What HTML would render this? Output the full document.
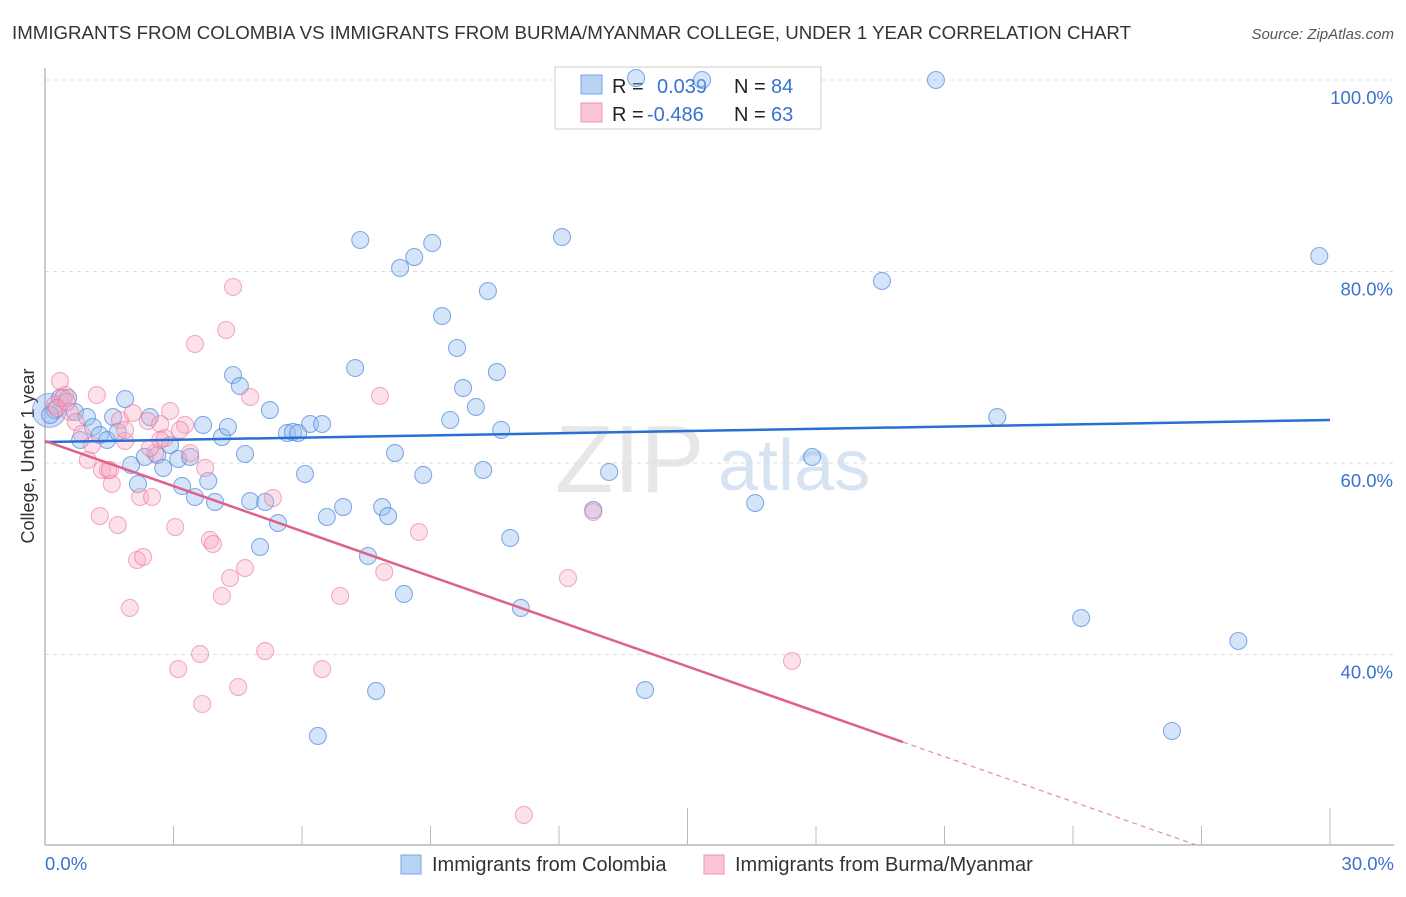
<!DOCTYPE html>
<html><head><meta charset="utf-8">
<style>
body{margin:0;background:#fff;font-family:"Liberation Sans",sans-serif;}
svg text{font-family:"Liberation Sans",sans-serif;}
</style></head>
<body>
<svg id="chart" width="1406" height="892" viewBox="0 0 1406 892" xmlns="http://www.w3.org/2000/svg">
<text x="12" y="39" font-size="18" fill="#333" textLength="1119" lengthAdjust="spacingAndGlyphs">IMMIGRANTS FROM COLOMBIA VS IMMIGRANTS FROM BURMA/MYANMAR COLLEGE, UNDER 1 YEAR CORRELATION CHART</text>
<text x="1394" y="39" font-size="15" fill="#555" text-anchor="end" font-style="italic">Source: ZipAtlas.com</text>
<text x="555" y="492" font-size="96" fill="#ddd" font-family="Liberation Serif" opacity="0.7">ZIP</text>
<text x="718" y="490" font-size="72" fill="#c6d8ef" opacity="0.7">atlas</text>
<g id="grid"></g>
<line x1="45" y1="68" x2="45" y2="845" stroke="#aaa" stroke-width="1.2"/>
<line x1="45" y1="845" x2="1394" y2="845" stroke="#aaa" stroke-width="1.2"/>
<g id="xticks"></g>
<text transform="translate(34,456) rotate(-90)" font-size="18" fill="#333" text-anchor="middle">College, Under 1 year</text>
<text x="45" y="870" font-size="18.5" fill="#3a72d0">0.0%</text>
<text x="1394" y="870" font-size="18.5" fill="#3a72d0" text-anchor="end">30.0%</text>
<g>
<rect x="555" y="67" width="266" height="62" fill="#fff" stroke="#ccc"/>
<rect x="581" y="75" width="21" height="19" fill="#b9d3f5" stroke="#7aa6e4"/>
<rect x="581" y="103" width="21" height="19" fill="#fbc5d5" stroke="#ee94b0"/>
<text x="612" y="93" font-size="20" fill="#222">R = </text><text x="657" y="93" font-size="20" fill="#3a72d0">0.039</text>
<text x="734" y="93" font-size="20" fill="#222">N = </text><text x="771" y="93" font-size="20" fill="#3a72d0">84</text>
<text x="612" y="121" font-size="20" fill="#222">R = </text><text x="647" y="121" font-size="20" fill="#3a72d0">-0.486</text>
<text x="734" y="121" font-size="20" fill="#222">N = </text><text x="771" y="121" font-size="20" fill="#3a72d0">63</text>
</g>
<g id="points"></g>
<g id="lines"></g>
<g>
<rect x="401" y="855" width="20" height="19" fill="#b9d3f5" stroke="#7aa6e4"/>
<text x="432" y="871" font-size="20" fill="#333">Immigrants from Colombia</text></g>
<g>
<rect x="704" y="855" width="20" height="19" fill="#fbc5d5" stroke="#ee94b0"/>
<text x="735" y="871" font-size="20" fill="#333">Immigrants from Burma/Myanmar</text></g>
</svg>
<script>
const yTicks=[100,80,60,40];
const yTickLabels=["100.0%","80.0%","60.0%","40.0%"];
const xTickValues=[3,6,9,12,15,18,21,24,27,30];
const blueX=[0.23,0.35,0.54,0.70,0.82,0.98,1.12,1.28,1.45,1.59,1.70,1.87,2.01,2.17,2.33,2.45,2.62,2.76,2.92,3.11,3.20,3.39,3.50,3.69,3.81,3.97,4.13,4.27,4.39,4.55,4.67,4.79,5.02,5.14,5.25,5.44,5.65,5.79,5.91,6.07,6.19,6.47,6.58,6.96,7.24,7.36,7.54,7.73,7.87,8.01,8.17,8.29,8.38,8.62,8.83,9.04,9.27,9.46,9.62,9.76,10.06,10.23,10.34,10.55,10.65,10.86,11.11,12.07,12.80,13.17,13.80,14.01,15.34,16.58,17.91,19.54,20.80,22.23,24.19,26.31,27.86,29.75,6.37,0.12];
const blueY=[65.53,66.79,66.79,65.33,62.40,64.80,63.76,62.92,62.40,64.80,63.24,66.68,59.79,57.81,60.63,64.80,60.83,59.48,61.88,60.42,57.60,60.63,56.45,63.97,58.12,55.93,62.71,63.76,69.19,68.04,60.94,56.03,51.23,55.93,65.53,53.73,63.13,63.24,63.13,58.85,64.07,64.07,54.36,55.40,69.92,83.29,50.29,36.19,55.40,54.46,61.04,80.37,46.32,81.51,58.75,82.98,75.35,64.49,72.01,67.83,65.85,59.27,77.96,69.50,63.45,52.17,44.86,83.60,55.09,59.06,100.2,36.29,100,55.82,60.63,79.01,100,64.80,43.81,32.01,41.41,81.62,31.49,65.01];
const pinkX=[0.23,0.35,0.47,0.58,0.72,0.86,1.00,1.10,1.21,1.28,1.33,1.47,1.56,1.70,1.75,1.87,1.98,2.05,2.15,2.22,2.29,2.40,2.50,2.57,2.69,2.80,2.92,3.04,3.11,3.27,3.39,3.50,3.62,3.67,3.74,3.85,3.92,4.13,4.23,4.32,4.39,4.51,4.67,4.79,5.14,5.32,6.47,6.89,7.82,7.92,8.73,11.18,12.21,12.80,17.44,0.42,0.28,0.51,1.52,2.69,3.15,2.45,1.87];
const pinkY=[66.06,68.56,67.10,65.33,64.28,63.03,60.31,61.88,67.10,54.46,59.27,59.27,57.81,53.52,64.49,62.30,44.86,65.22,49.87,56.45,50.18,64.39,56.45,61.04,64.07,62.61,65.43,53.31,38.48,63.97,61.04,72.43,40.05,34.83,59.48,51.96,51.54,46.11,73.89,47.99,78.38,36.60,49.03,66.89,40.36,56.34,38.48,46.11,67.00,48.62,52.79,23.24,47.99,54.88,39.32,66.79,65.74,66.37,59.27,62.40,63.45,61.57,63.45];
const blueTrend=[62.19,64.49];
const pinkTrend=[62.3,-1.57];
const NS="http://www.w3.org/2000/svg";
const X=v=>45+v*(1285/30);
const Y=v=>80+(100-v)*9.575;
function mk(tag,attrs,parent){const e=document.createElementNS(NS,tag);for(const k in attrs)e.setAttribute(k,attrs[k]);parent.appendChild(e);return e;}
const grid=document.getElementById('grid');
yTicks.forEach((t,i)=>{
 const l=mk('line',{x1:45,x2:1394,y1:Y(t),y2:Y(t),stroke:'#ddd','stroke-dasharray':'4 4'},grid);
 
 
 const tx=mk('text',{x:1393,y:Y(t)+24,'font-size':18.5,fill:'#3a72d0','text-anchor':'end'},grid);
 tx.textContent=yTickLabels[i];
 
 
});
const xt=document.getElementById('xticks');
xTickValues.forEach((v,i)=>{
 const l=mk('line',{x1:X(v),x2:X(v),y1:(i%5==4)?808:826,y2:845,stroke:'#bbb'},xt);
 
 
});
const pg=document.getElementById('points');
const big=mk('circle',{cx:X(0.1),cy:Y(65.5),r:17,fill:'rgba(120,160,230,0.35)',stroke:'rgba(70,120,210,0.5)'},pg);


blueX.forEach((x,i)=>{
 const c=mk('circle',{cx:X(x),cy:Y(blueY[i]),r:8.5,fill:'rgba(150,190,240,0.4)',stroke:'rgba(60,120,215,0.6)','stroke-width':1.1},pg);
 
 
});
pinkX.forEach((x,i)=>{
 const c=mk('circle',{cx:X(x),cy:Y(pinkY[i]),r:8.5,fill:'rgba(248,170,195,0.35)',stroke:'rgba(235,110,150,0.55)','stroke-width':1.1},pg);
 
 
});
const lg=document.getElementById('lines');
const bl=mk('line',{x1:X(0),y1:Y(blueTrend[0]),x2:X(30),y2:Y(blueTrend[1]),stroke:'#2a6fd6','stroke-width':2.5},lg);


const pe=20.03, pd=26.85;
const pl=mk('line',{x1:X(0),y1:Y(pinkTrend[0]),x2:X(pe),y2:Y(pinkTrend[0]+pinkTrend[1]*pe),stroke:'#e0608c','stroke-width':2.5},lg);


const pdl=mk('line',{x1:X(pe),y1:Y(pinkTrend[0]+pinkTrend[1]*pe),x2:X(pd),y2:Y(pinkTrend[0]+pinkTrend[1]*pd),stroke:'#e88aa8','stroke-width':1.2,'stroke-dasharray':'5 4'},lg);


</script>
</body></html>
